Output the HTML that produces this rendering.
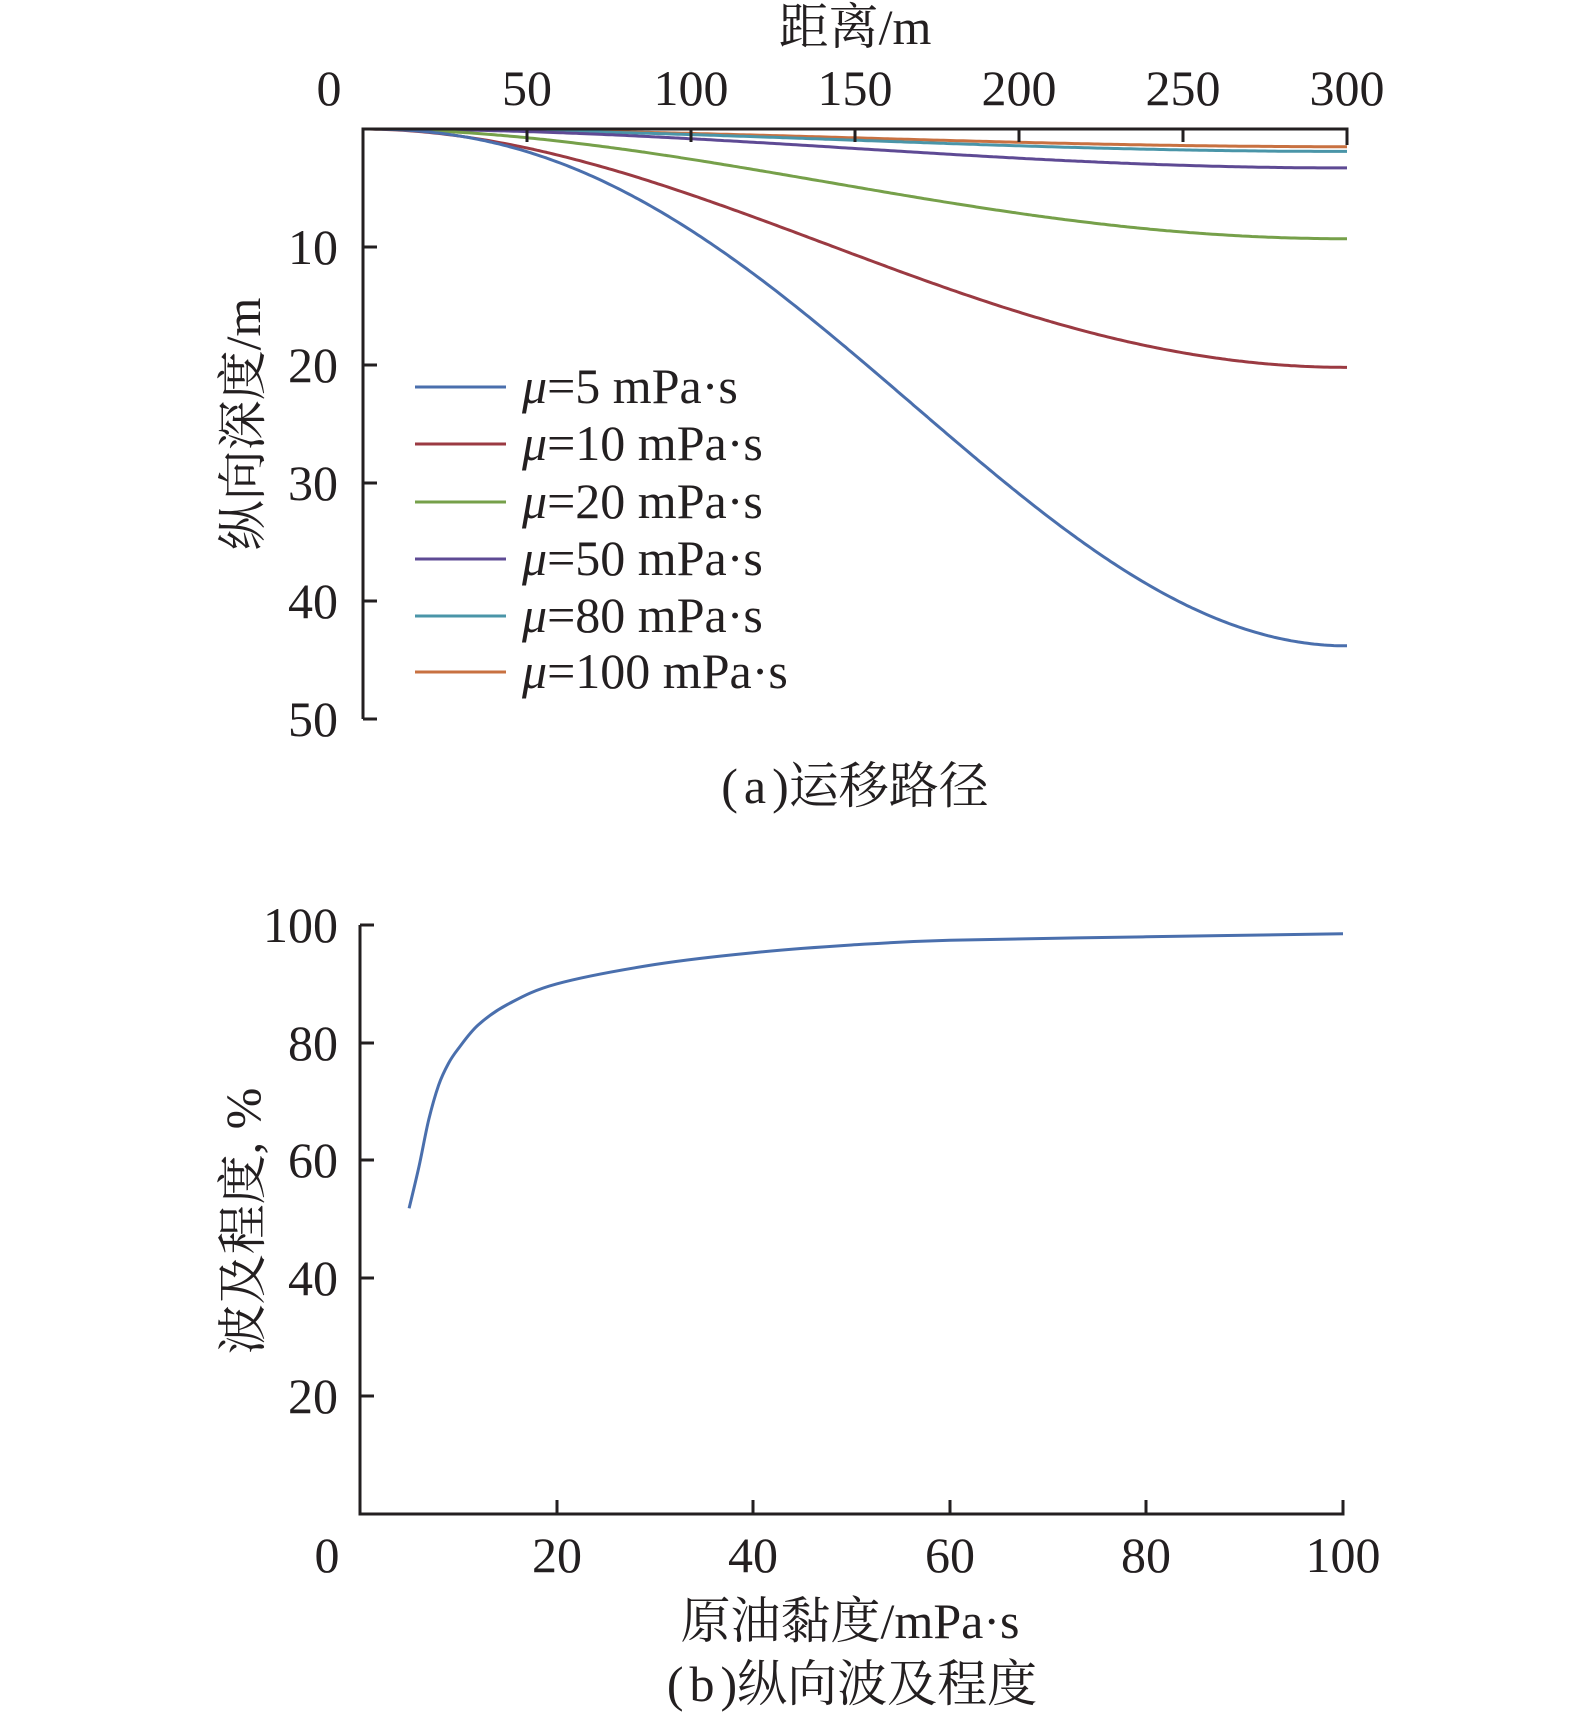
<!DOCTYPE html>
<html><head><meta charset="utf-8"><style>
html,body{margin:0;padding:0;background:#fff;}
svg{display:block;}
text{font-family:"Liberation Serif","Noto Serif CJK SC",serif;fill:#231f20;font-size:50px;}
</style></head><body>
<svg id="s" width="1575" height="1720" viewBox="0 0 1575 1720" xmlns="http://www.w3.org/2000/svg">
<g id="g"></g>
<path d="M363,719 V129 H1347 V145" fill="none" stroke="#231f20" stroke-width="3"/>
<g stroke="#231f20" stroke-width="3">
<line x1="527" y1="129" x2="527" y2="142"/><line x1="691" y1="129" x2="691" y2="142"/><line x1="855" y1="129" x2="855" y2="142"/><line x1="1019" y1="129" x2="1019" y2="142"/><line x1="1183" y1="129" x2="1183" y2="142"/>
<line x1="363" y1="247" x2="377" y2="247"/><line x1="363" y1="365" x2="377" y2="365"/><line x1="363" y1="483" x2="377" y2="483"/><line x1="363" y1="601" x2="377" y2="601"/><line x1="363" y1="719" x2="377" y2="719"/>
</g>
<g text-anchor="middle">
<text x="329" y="105">0</text><text x="527" y="105">50</text><text x="691" y="105">100</text><text x="855" y="105">150</text><text x="1019" y="105">200</text><text x="1183" y="105">250</text><text x="1347" y="105">300</text>
<text x="855" y="44">距离/m</text>
<text x="855" y="803" font-size="46">(<tspan dx="6">a</tspan><tspan dx="6">)</tspan>运移路径</text>
</g>
<g text-anchor="end">
<text x="338" y="264">10</text><text x="338" y="382">20</text><text x="338" y="500">30</text><text x="338" y="618">40</text><text x="338" y="736">50</text>
</g>
<text transform="translate(260,424) rotate(-90)" text-anchor="middle">纵向深度/m</text>
<g stroke-width="3">
<line x1="415" y1="387" x2="506" y2="387" stroke="#4a6fad"/>
<line x1="415" y1="444" x2="506" y2="444" stroke="#9b3a42"/>
<line x1="415" y1="502" x2="506" y2="502" stroke="#76a04a"/>
<line x1="415" y1="559" x2="506" y2="559" stroke="#5e4a94"/>
<line x1="415" y1="616" x2="506" y2="616" stroke="#4a95a8"/>
<line x1="415" y1="672" x2="506" y2="672" stroke="#c87141"/>
</g>
<g font-size="51">
<text x="522" y="403"><tspan font-style="italic">μ</tspan>=5 mPa·s</text>
<text x="522" y="460"><tspan font-style="italic">μ</tspan>=10 mPa·s</text>
<text x="522" y="518"><tspan font-style="italic">μ</tspan>=20 mPa·s</text>
<text x="522" y="575"><tspan font-style="italic">μ</tspan>=50 mPa·s</text>
<text x="522" y="632"><tspan font-style="italic">μ</tspan>=80 mPa·s</text>
<text x="522" y="688"><tspan font-style="italic">μ</tspan>=100 mPa·s</text>
</g>
<path d="M360,925 V1514 H1343 V1500" fill="none" stroke="#231f20" stroke-width="3"/>
<g stroke="#231f20" stroke-width="3">
<line x1="360" y1="925" x2="374" y2="925"/><line x1="360" y1="1043" x2="374" y2="1043"/><line x1="360" y1="1160" x2="374" y2="1160"/><line x1="360" y1="1278" x2="374" y2="1278"/><line x1="360" y1="1396" x2="374" y2="1396"/>
<line x1="557" y1="1514" x2="557" y2="1500"/><line x1="753" y1="1514" x2="753" y2="1500"/><line x1="950" y1="1514" x2="950" y2="1500"/><line x1="1146" y1="1514" x2="1146" y2="1500"/>
</g>
<g text-anchor="end">
<text x="338" y="942">100</text><text x="338" y="1060">80</text><text x="338" y="1177">60</text><text x="338" y="1295">40</text><text x="338" y="1413">20</text>
</g>
<g text-anchor="middle">
<text x="327" y="1572">0</text><text x="557" y="1572">20</text><text x="753" y="1572">40</text><text x="950" y="1572">60</text><text x="1146" y="1572">80</text><text x="1343" y="1572">100</text>
<text x="850" y="1638">原油黏度/mPa·s</text>
<text x="852" y="1701" font-size="46">(<tspan dx="6">b</tspan><tspan dx="6">)</tspan>纵向波及程度</text>
</g>
<text transform="translate(260,1221) rotate(-90)" text-anchor="middle">波及程度, %</text>
</svg>
<script>
var g=document.getElementById("g"),ns="http://www.w3.org/2000/svg";
function add(d,c){var p=document.createElementNS(ns,"path");p.setAttribute("d",d);p.setAttribute("fill","none");p.setAttribute("stroke",c);p.setAttribute("stroke-width","3");p.setAttribute("stroke-linejoin","round");g.appendChild(p);}
function curve(D,p,c){var d="";for(var i=0;i<=300;i++){var t=i/300;var f=(1-Math.cos(Math.PI*Math.pow(t,p)))/2;var x=363+t*984,y=129+D*f*11.8;d+=(i?"L":"M")+x.toFixed(1)+","+y.toFixed(1);}add(d,c);}
curve(1.5,1,"#c87141");
curve(1.9,1,"#4a95a8");
curve(3.3,1,"#5e4a94");
curve(9.3,0.95,"#76a04a");
curve(20.2,0.95,"#9b3a42");
curve(43.8,1.12,"#4a6fad");
function cr(pts){var d="M"+pts[0][0].toFixed(1)+","+pts[0][1].toFixed(1);
for(var i=0;i<pts.length-1;i++){var p0=pts[i-1]||pts[i],p1=pts[i],p2=pts[i+1],p3=pts[i+2]||p2;
var c1=[p1[0]+(p2[0]-p0[0])/6,p1[1]+(p2[1]-p0[1])/6],c2=[p2[0]-(p3[0]-p1[0])/6,p2[1]-(p3[1]-p1[1])/6];
d+=" C"+c1[0].toFixed(1)+","+c1[1].toFixed(1)+" "+c2[0].toFixed(1)+","+c2[1].toFixed(1)+" "+p2[0].toFixed(1)+","+p2[1].toFixed(1);}return d;}
var b=[[5,51.9],[6,59],[7,67],[8,72.8],[9,76.5],[10,79],[12,83],[15,86.5],[20,90],[30,93.3],[40,95.3],[50,96.6],[60,97.4],[80,98],[100,98.5]];
add(cr(b.map(function(p){return [360+p[0]*9.83,1514-p[1]*5.89];})),"#4a6fad");
</script>
</body></html>
